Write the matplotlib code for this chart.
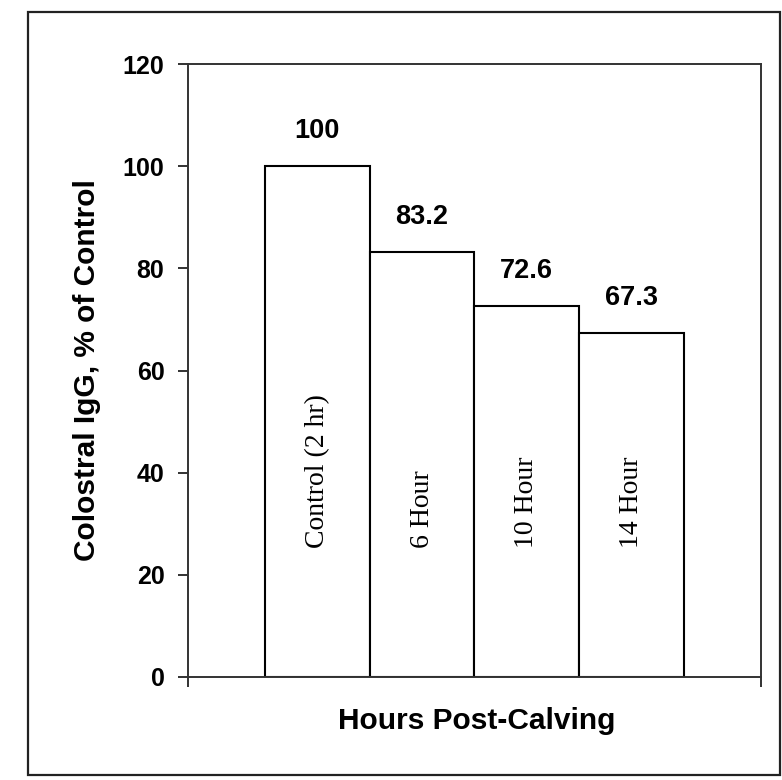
import matplotlib
matplotlib.use('Agg')
import matplotlib.pyplot as plt
from matplotlib.patches import Rectangle

# data
groups = ['Control (2 hr)', '6 Hour', '10 Hour', '14 Hour']
igg_pct = [100, 83.2, 72.6, 67.3]
value_labels = ['100', '83.2', '72.6', '67.3']
yticks = [0, 20, 40, 60, 80, 100, 120]

plt.rcParams['font.family'] = ['Liberation Sans', 'DejaVu Sans']

fig = plt.figure(figsize=(7.82, 7.80), dpi=100)
ax = fig.add_axes([0.2404, 0.1321, 0.7327, 0.7858])

# outer frame around whole figure
fig.patches.append(Rectangle((0.0358, 0.0064), 0.9616, 0.9782, transform=fig.transFigure,
                             fill=False, edgecolor='#222222', linewidth=1.6))

x = list(range(len(groups)))
ax.bar(x, igg_pct, width=1.0, color='white', edgecolor='black', linewidth=1.5)

pad = 0.735
ax.set_xlim(-0.5 - pad, len(groups) - 0.5 + pad)
ax.set_ylim(0, 120)
ax.set_yticks(yticks)
ax.set_xticks([-0.5 - pad, len(groups) - 0.5 + pad])
ax.set_xticklabels([])
ax.tick_params(axis='both', direction='out', length=7, width=1.3, color='#222222')
ax.tick_params(axis='y', pad=10, labelsize=18)
for lab in ax.get_yticklabels():
    lab.set_fontweight('bold')
for sp in ax.spines.values():
    sp.set_linewidth(1.4)
    sp.set_color('#333333')

# value labels above bars
for xi, v, s in zip(x, igg_pct, value_labels):
    ax.annotate(s, (xi, v), xytext=(0, 25.5), textcoords='offset points',
                ha='center', va='center', fontsize=19.5, fontweight='bold')

# group names inside bars
for xi, g in zip(x, groups):
    ax.text(xi, 25.3, g, rotation=90, ha='center', va='bottom',
            fontsize=20, family=['Liberation Serif', 'DejaVu Serif'])

fig.text(87 / 782, 1 - 370 / 780, 'Colostral IgG, % of Control', rotation=90,
         ha='center', va='center', fontsize=21.5, fontweight='bold')
fig.text(477 / 782, 1 - 721 / 780, 'Hours Post-Calving',
         ha='center', va='center', fontsize=21.5, fontweight='bold')

fig.savefig('out.png', dpi=100)
